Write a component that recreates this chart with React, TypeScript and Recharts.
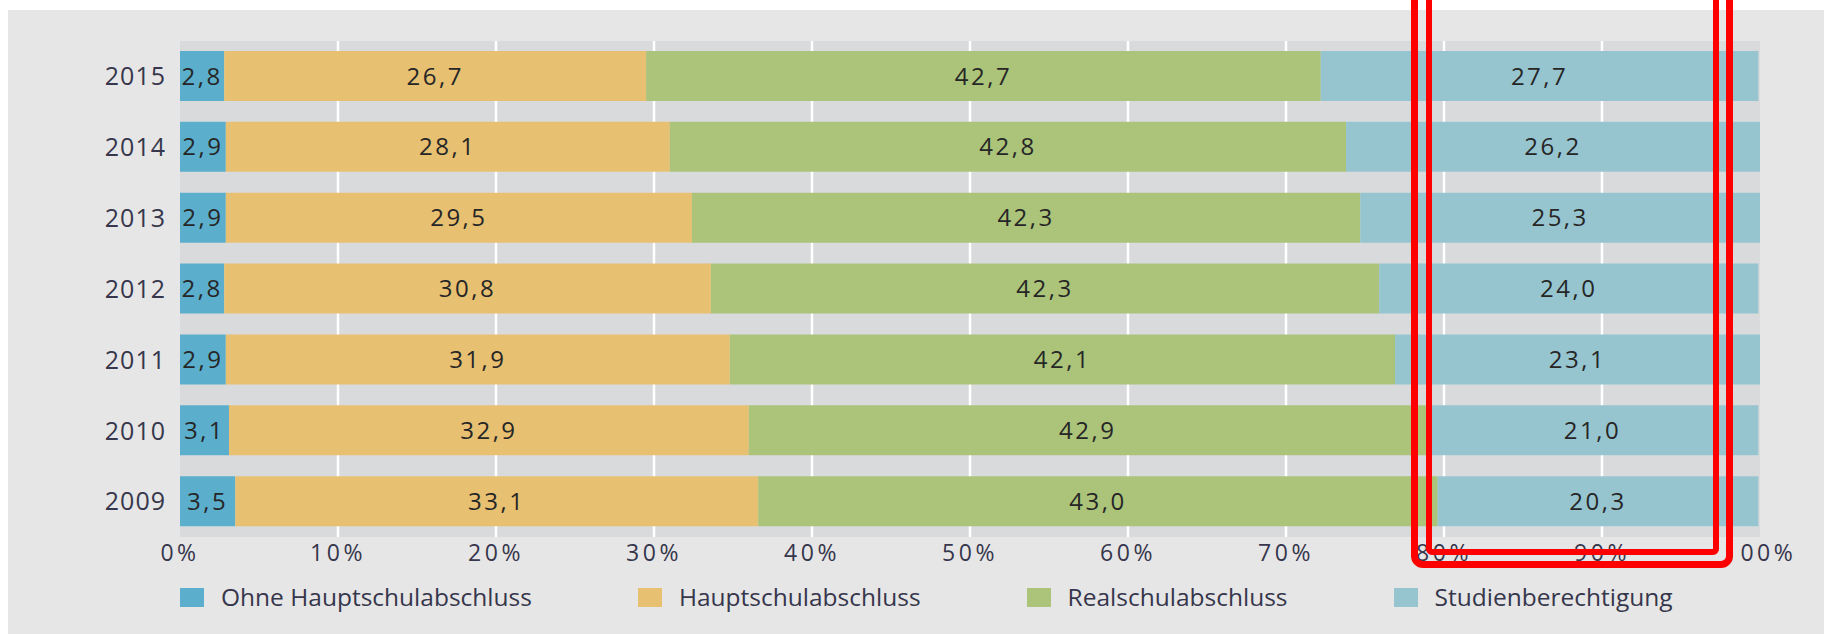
import React from 'react';
import { BarChart, Bar, XAxis, YAxis, CartesianGrid, LabelList } from 'recharts';

const years = ['2015', '2014', '2013', '2012', '2011', '2010', '2009'];
const ohne = [2.8, 2.9, 2.9, 2.8, 2.9, 3.1, 3.5];
const haupt = [26.7, 28.1, 29.5, 30.8, 31.9, 32.9, 33.1];
const real = [42.7, 42.8, 42.3, 42.3, 42.1, 42.9, 43.0];
const studien = [27.7, 26.2, 25.3, 24.0, 23.1, 21.0, 20.3];
const xTicks = [0, 10, 20, 30, 40, 50, 60, 70, 80, 90, 100];
const gridValues = [10, 20, 30, 40, 50, 60, 70, 80, 90];

const seriesNames = ['Ohne Hauptschulabschluss', 'Hauptschulabschluss', 'Realschulabschluss', 'Studienberechtigung'];
const seriesKeys = ['ohne', 'haupt', 'real', 'studien'];
const seriesColors = ['#5bafcd', '#e7c072', '#abc47a', '#96c5d0'];

const data = years.map((y, i) => ({
  year: y,
  ohne: ohne[i],
  haupt: haupt[i],
  real: real[i],
  studien: studien[i],
}));

const FONT = '"Open Sans", "DejaVu Sans", sans-serif';
const fmt = (v: any) => (typeof v === 'number' ? v.toFixed(1).replace('.', ',') : v);

export default function App() {
  return (
    <div style={{ position: 'fixed', left: 0, top: 0, width: 1824, height: 634, background: '#ffffff', overflow: 'hidden', fontFamily: FONT }}>
      <div style={{ position: 'absolute', left: 8, top: 10, right: 0, bottom: 0, background: '#e6e6e6' }} />
      <div style={{ position: 'absolute', left: 0, top: 0 }}>
        <BarChart
          width={1824}
          height={634}
          data={data}
          layout="vertical"
          margin={{ top: 41, right: 64, left: 0, bottom: 0 }}
          barSize={50}
        >
          <CartesianGrid
            horizontal={false}
            stroke="#ffffff"
            strokeWidth={2.5}
            fill="#d9dadc"
            fillOpacity={1}
            verticalCoordinatesGenerator={(props: any) => {
              const xa = props && props.xAxis;
              if (xa && typeof xa.scale === 'function') {
                return gridValues.map((v) => xa.scale(v));
              }
              const off = props.offset;
              return gridValues.map((v) => off.left + (v / 100) * off.width);
            }}
          />
          <XAxis
            type="number"
            domain={[0, 100]}
            ticks={xTicks}
            tickFormatter={(v: number) => `${v}%`}
            axisLine={false}
            tickLine={false}
            height={97}
            interval={0}
            tick={{ fontSize: 23, fill: '#36364c', fontFamily: FONT, letterSpacing: 3.5 }}
          />
          <YAxis
            type="category"
            dataKey="year"
            width={180}
            axisLine={false}
            tickLine={false}
            tickMargin={8}
            tick={{ fontSize: 25, fill: '#36364c', fontFamily: FONT, letterSpacing: 1 }}
          />
          {seriesKeys.map((k, i) => (
            <Bar key={k} dataKey={k} name={seriesNames[i]} stackId="a" fill={seriesColors[i]} isAnimationActive={false}>
              <LabelList
                dataKey={k}
                position="center"
                formatter={fmt}
                style={{ fontSize: 24, fill: '#262626', fontFamily: FONT, letterSpacing: 2.5 }}
              />
            </Bar>
          ))}
        </BarChart>
      </div>
      <div style={{ position: 'absolute', left: 180, top: 583, display: 'flex', alignItems: 'center' }}>
        {seriesNames.map((n, i) => (
          <div key={n} style={{ display: 'flex', alignItems: 'center', marginRight: 106 }}>
            <div style={{ width: 24, height: 19, background: seriesColors[i], marginRight: 17 }} />
            <span style={{ fontSize: 24.5, color: '#36364c', fontFamily: FONT, lineHeight: '28px' }}>{n}</span>
          </div>
        ))}
      </div>
      <div style={{ position: 'absolute', left: 1411, top: -20, width: 322, height: 588, border: '7px solid #ff0000', borderRadius: 12, boxSizing: 'border-box' }} />
      <div style={{ position: 'absolute', left: 1426, top: -20, width: 293, height: 575, border: '6px solid #ff0000', borderRadius: 6, boxSizing: 'border-box' }} />
    </div>
  );
}
